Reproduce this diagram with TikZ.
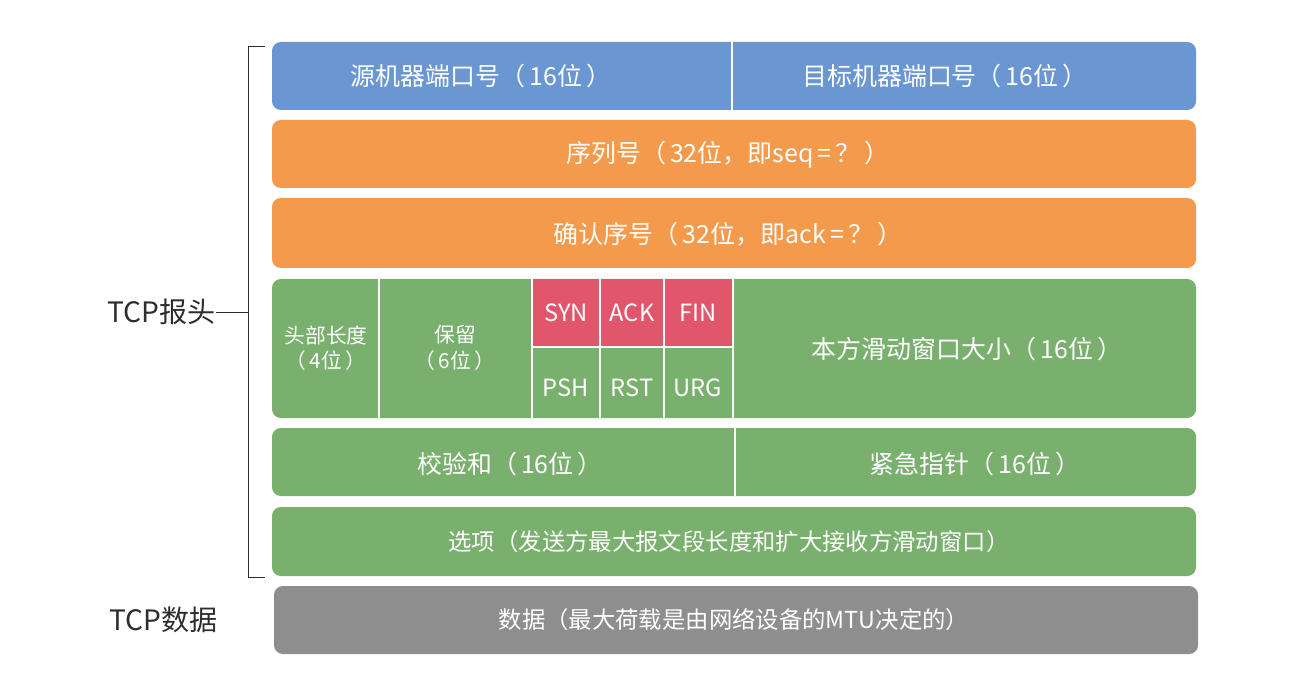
\documentclass[tikz,border=0pt]{standalone}
\usepackage{fontspec}
\setmainfont{Noto Sans CJK SC}
\usepackage{xcolor}
\definecolor{srcblue}{RGB}{106,150,210}
\definecolor{seqorange}{RGB}{244,154,76}
\definecolor{hdrgreen}{RGB}{121,176,110}
\definecolor{flagred}{RGB}{226,86,107}
\definecolor{datagray}{RGB}{142,142,142}
\definecolor{lblgray}{RGB}{45,45,45}
\usepackage{tikz}
\usetikzlibrary{positioning}
\tikzset{
    fieldtxt/.style = {text=white, font=\fontsize{14.2}{17}\selectfont, align=center, inner sep=0pt},
    longtxt/.style  = {text=white, font=\fontsize{13.3}{16}\selectfont, align=center, inner sep=0pt},
    smalltxt/.style = {text=white, font=\fontsize{11.8}{14.5}\selectfont, align=center, inner sep=0pt},
    flagtxt/.style  = {text=white, font=\fontsize{13.5}{16}\selectfont, inner sep=0pt},
    sidelbl/.style  = {text=lblgray, font=\fontsize{16}{19}\selectfont, inner sep=0pt},
    rowbox/.style   = {rounded corners=5pt},
    divider/.style  = {draw=white, line width=1.2pt},
    bracket/.style  = {draw=lblgray, line width=0.5pt}
}
\begin{document}
\begin{tikzpicture}[x=0.02cm, y=-0.02cm]
\useasboundingbox (0,0) rectangle (1290,692);

% --- Row backgrounds ---
\fill[srcblue, rowbox]   (272,42)  rectangle (1196,110);
\fill[seqorange, rowbox] (272,120) rectangle (1196,188);
\fill[seqorange, rowbox] (272,198) rectangle (1196,268);
\fill[hdrgreen, rowbox]  (272,279) rectangle (1196,418);
\fill[flagred]           (532,279) rectangle (733,347);
\fill[hdrgreen, rowbox]  (272,428) rectangle (1196,496);
\fill[hdrgreen, rowbox]  (272,507) rectangle (1196,576);
\fill[datagray, rowbox]  (274,586) rectangle (1198,654);

% --- Cell dividers ---
\draw[divider] (732,42) -- (732,110);
\foreach \xx in {379,532,600,664,733}
   \draw[divider] (\xx,279) -- (\xx,418);
\draw[divider] (532,347) -- (733,347);
\draw[divider] (735,428) -- (735,496);

% --- Field texts ---
\node[fieldtxt] (srcport) at (481,76)  {源机器端口号（\,16位\,）};
\node[fieldtxt] (dstport) at (945,76)  {目标机器端口号（\,16位\,）};
\node[fieldtxt] (seqno)   at (728,155) {序列号（\,32位，即seq\,=\,？\,）};
\node[fieldtxt] (ackno)   at (728,234) {确认序号（\,32位，即ack\,=\,？\,）};
\node[smalltxt] (hdrlen)  at (326,348) {头部长度\\（\,4位\,）};
\node[smalltxt] (resv)    at (455,348) {保留\\（\,6位\,）};
\node[flagtxt]  (syn)     at (566,313) {SYN};
\node[flagtxt]  (ack)     at (632,313) {ACK};
\node[flagtxt]  (fin)     at (698,313) {FIN};
\node[flagtxt]  (psh)     at (566,388) {PSH};
\node[flagtxt]  (rst)     at (632,388) {RST};
\node[flagtxt]  (urg)     at (698,388) {URG};
\node[fieldtxt] (window)  at (967,349) {本方滑动窗口大小（\,16位\,）};
\node[fieldtxt] (chksum)  at (510,464) {校验和（\,16位\,）};
\node[fieldtxt] (urgptr)  at (975,464) {紧急指针（\,16位\,）};
\node[longtxt]  (opts)    at (729,542) {选项（发送方最大报文段长度和扩大接收方滑动窗口）};
\node[longtxt]  (payload) at (734,620) {数据（最大荷载是由网络设备的MTU决定的）};

% --- Side labels and bracket ---
\node[sidelbl, anchor=east] (hdrlbl)  at (216,312) {TCP报头};
\node[sidelbl, anchor=east] (datalbl) at (218,620) {TCP数据};
\draw[bracket] (265,46) -- (248,46) -- (248,577) -- (265,577);
\draw[bracket] (hdrlbl.east) -- (248,312);

\end{tikzpicture}
\end{document}
